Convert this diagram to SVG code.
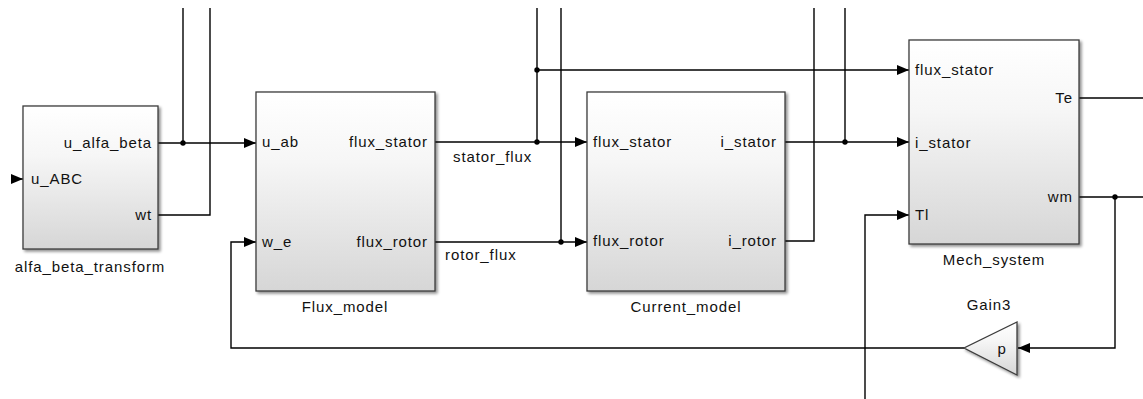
<svg xmlns="http://www.w3.org/2000/svg" width="1143" height="399" viewBox="0 0 1143 399">
<defs>
<linearGradient id="blk" x1="0" y1="0" x2="0" y2="1">
<stop offset="0" stop-color="#ffffff"/>
<stop offset="0.35" stop-color="#f6f6f6"/>
<stop offset="1" stop-color="#d6d6d6"/>
</linearGradient>
<filter id="sh" x="-10%" y="-10%" width="130%" height="130%">
<feGaussianBlur in="SourceAlpha" stdDeviation="1.5"/>
<feOffset dx="2" dy="2" result="o"/>
<feComponentTransfer><feFuncA type="linear" slope="0.45"/></feComponentTransfer>
<feMerge><feMergeNode/><feMergeNode in="SourceGraphic"/></feMerge>
</filter>
<marker id="arr" markerUnits="userSpaceOnUse" markerWidth="13" markerHeight="12" refX="12" refY="6" orient="auto">
<path d="M0,1 L12,6 L0,11 z" fill="#000"/>
</marker>
</defs>
<style>
.blk{fill:url(#blk);stroke:#3c3c3c;stroke-width:1.3;filter:url(#sh)}
.t{font-family:"Liberation Sans",Arial,sans-serif;font-size:15px;letter-spacing:0.9px;fill:#111}
.e{text-anchor:end}
.m{text-anchor:middle}
.w{fill:none;stroke:#000;stroke-width:1.4}
.a{marker-end:url(#arr)}
.d{fill:#000}
</style>
<rect width="1143" height="399" fill="#fff"/>
<g id="connectors">
<path class="w a" d="M12 179 H23"/>
<path class="w a" d="M158 143 H256"/>
<path class="w" d="M183 8 V143"/>
<path class="w" d="M158 215 H210 V8"/>
<path class="w a" d="M435 142 H587"/>
<path class="w" d="M537 8 V142"/>
<path class="w a" d="M537 70 H909"/>
<path class="w a" d="M435 242 H587"/>
<path class="w" d="M561 8 V242"/>
<path class="w a" d="M785 142 H909"/>
<path class="w" d="M845 8 V142"/>
<path class="w" d="M785 241 H814 V8"/>
<path class="w" d="M1079 98 H1143"/>
<path class="w" d="M1079 197 H1143"/>
<path class="w a" d="M1115 197 V348 H1018"/>
<path class="w a" d="M964 348 H231 V242 H256"/>
<path class="w a" d="M865 399 V215 H909"/>
<circle class="d" cx="183" cy="143" r="2.7"/>
<circle class="d" cx="537" cy="142" r="2.7"/>
<circle class="d" cx="537" cy="70" r="2.7"/>
<circle class="d" cx="561" cy="242" r="2.7"/>
<circle class="d" cx="845" cy="142" r="2.7"/>
<circle class="d" cx="1115" cy="197" r="2.7"/>
<text class="t" x="453" y="162">stator_flux</text>
<text class="t" x="445" y="260">rotor_flux</text>
</g>
<g id="alfa_beta_transform">
<rect class="blk" x="23" y="106" width="135" height="143"/>
<text class="t e" x="152" y="148">u_alfa_beta</text>
<text class="t" x="31" y="184">u_ABC</text>
<text class="t e" x="152" y="220">wt</text>
<text class="t m" x="90" y="272">alfa_beta_transform</text>
</g>
<g id="Flux_model">
<rect class="blk" x="256" y="92" width="179" height="199"/>
<text class="t" x="262" y="147">u_ab</text>
<text class="t" x="262" y="247">w_e</text>
<text class="t e" x="428" y="147">flux_stator</text>
<text class="t e" x="428" y="247">flux_rotor</text>
<text class="t m" x="345" y="312">Flux_model</text>
</g>
<g id="Current_model">
<rect class="blk" x="587" y="92" width="198" height="199"/>
<text class="t" x="593" y="147">flux_stator</text>
<text class="t" x="593" y="246">flux_rotor</text>
<text class="t e" x="777" y="147">i_stator</text>
<text class="t e" x="777" y="246">i_rotor</text>
<text class="t m" x="686" y="312">Current_model</text>
</g>
<g id="Mech_system">
<rect class="blk" x="909" y="40" width="170" height="204"/>
<text class="t" x="915" y="75">flux_stator</text>
<text class="t" x="915" y="148">i_stator</text>
<text class="t" x="915" y="220">Tl</text>
<text class="t e" x="1073" y="103">Te</text>
<text class="t e" x="1073" y="202">wm</text>
<text class="t m" x="994" y="265">Mech_system</text>
</g>
<g id="Gain3">
<path class="blk" d="M1017 322 V375 L964 348 Z"/>
<text class="t m" x="1002" y="354">p</text>
<text class="t m" x="989" y="310">Gain3</text>
</g>
</svg>
